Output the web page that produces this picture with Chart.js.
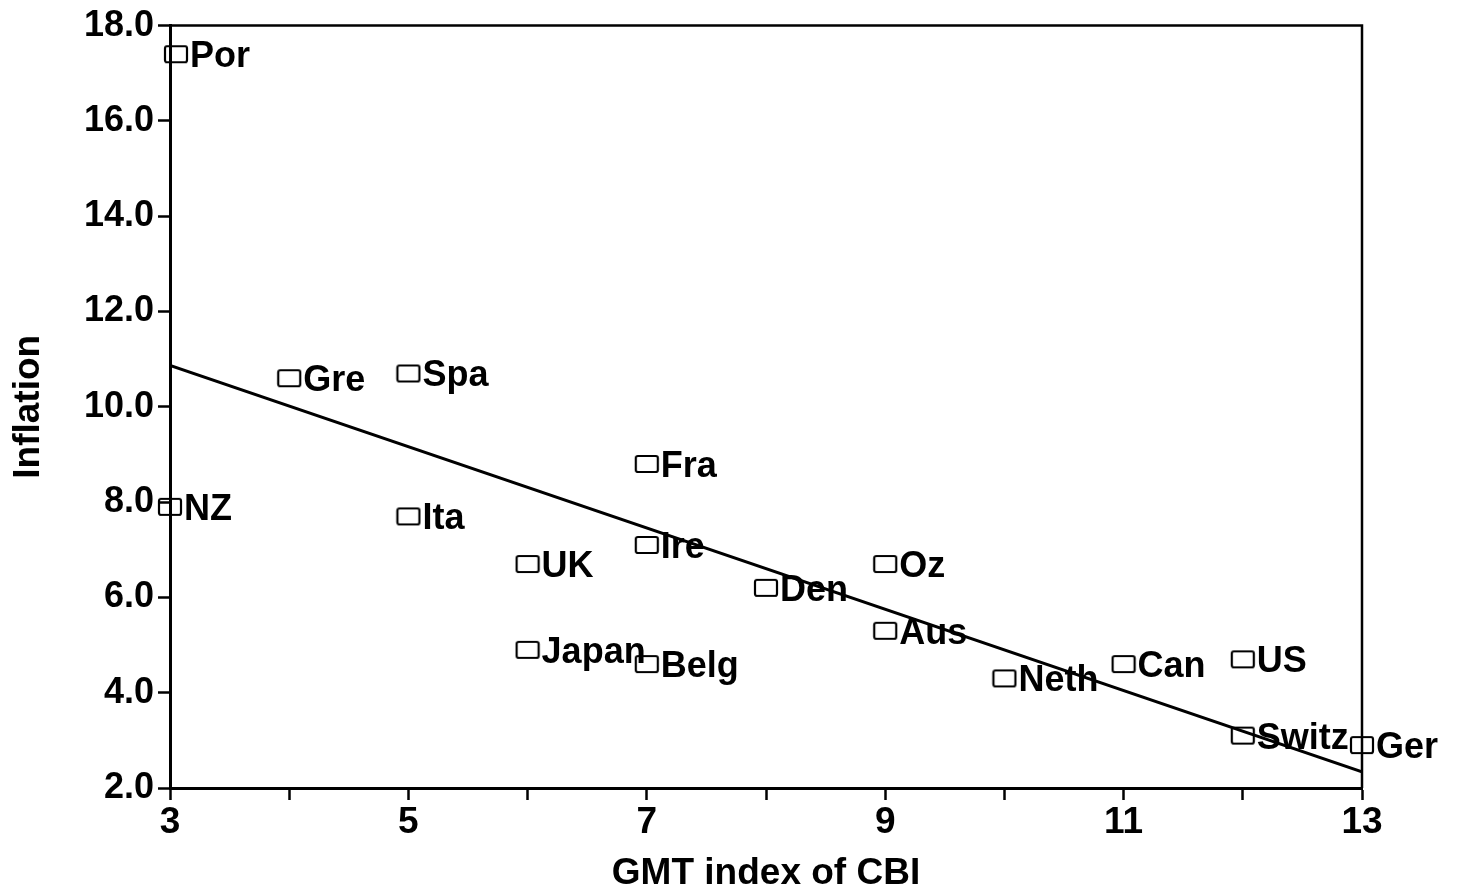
<!DOCTYPE html>
<html>
<head>
<meta charset="utf-8">
<script src="https://cdn.jsdelivr.net/npm/chart.js@4"></script>
<style>
  body { margin: 0; background: #fff; }
  canvas { display: block; }
</style>
</head>
<body>
<canvas id="cbi-chart" width="1458" height="894"></canvas>
<script>
// 国家简称、CBI指数、通胀率
const countries = ['Por', 'Gre', 'Spa', 'NZ', 'Ita', 'Fra', 'Ire', 'UK', 'Den', 'Oz', 'Aus', 'Japan', 'Belg', 'Neth', 'Can', 'US', 'Switz', 'Ger'];
const cbiIndex = [3.05, 4, 5, 3, 5, 7, 7, 6, 8, 9, 9, 6, 7, 10, 11, 12, 12, 13];
const inflation = [17.4, 10.6, 10.7, 7.9, 7.7, 8.8, 7.1, 6.7, 6.2, 6.7, 5.3, 4.9, 4.6, 4.3, 4.6, 4.7, 3.1, 2.9];

// 回归线两端
const fitX = [3, 13];
const fitY = [10.87, 2.34];

// 刻度
const xTicks = [3, 5, 7, 9, 11, 13];
const yMin = 2, yMax = 18, yStep = 2;

const FONT = "'Liberation Sans', Arial, sans-serif";

// 空心小方框作为点样式
function makeBox() {
    const c = document.createElement('canvas');
    c.width = 26;
    c.height = 20;
    const g = c.getContext('2d');
    g.strokeStyle = '#000';
    g.lineWidth = 2.2;
    g.beginPath();
    g.roundRect(2, 2, 22, 16, 2);
    g.stroke();
    return c;
}

// 点旁的国家标签
const pointLabels = {
    id: 'pointLabels',
    afterDatasetsDraw(chart) {
        const ctx = chart.ctx;
        const meta = chart.getDatasetMeta(0);
        ctx.save();
        ctx.fillStyle = '#000';
        ctx.font = `bold 36px ${FONT}`;
        ctx.textBaseline = 'middle';
        ctx.textAlign = 'left';
        meta.data.forEach((pt, i) => {
            ctx.fillText(countries[i], pt.x + 14, pt.y + 3);
        });
        ctx.restore();
    }
};

// 上、右边框
const frame = {
    id: 'frame',
    beforeDatasetsDraw(chart) {
        const { ctx, chartArea } = chart;
        ctx.save();
        ctx.strokeStyle = '#000';
        ctx.lineWidth = 2.5;
        ctx.beginPath();
        ctx.moveTo(chartArea.left, chartArea.top);
        ctx.lineTo(chartArea.right, chartArea.top);
        ctx.lineTo(chartArea.right, chartArea.bottom);
        ctx.stroke();
        ctx.restore();
    }
};

const ctx = document.getElementById('cbi-chart').getContext('2d');

window.cbiChart = new Chart(ctx, {
    type: 'scatter',
    data: {
        datasets: [
            {
                label: 'Inflation',
                data: cbiIndex.map((x, i) => ({ x: x, y: inflation[i] })),
                pointStyle: makeBox(),
                pointRadius: 10,
                clip: false,
                order: 2
            },
            {
                type: 'line',
                label: 'Fit',
                data: fitX.map((x, i) => ({ x: x, y: fitY[i] })),
                borderColor: '#000',
                borderWidth: 3,
                pointRadius: 0,
                fill: false,
                order: 1
            }
        ]
    },
    options: {
        responsive: false,
        animation: false,
        events: [],
        layout: {
            padding: { top: 25, right: 96, left: 0, bottom: 0 }
        },
        plugins: {
            legend: { display: false },
            tooltip: { enabled: false }
        },
        scales: {
            x: {
                type: 'linear',
                min: 3,
                max: 13,
                afterFit(scale) { scale.height = 106; },
                ticks: {
                    stepSize: 1,
                    color: '#000',
                    padding: 1,
                    maxRotation: 0,
                    autoSkip: false,
                    font: { family: FONT, size: 37, weight: 'bold' },
                    callback: v => xTicks.includes(v) ? String(v) : ''
                },
                grid: {
                    drawOnChartArea: false,
                    tickLength: 12,
                    tickColor: '#000',
                    tickWidth: 2.5
                },
                border: { color: '#000', width: 3 },
                title: {
                    display: true,
                    text: 'GMT index of CBI',
                    color: '#000',
                    padding: { top: 0, bottom: -2 },
                    font: { family: FONT, size: 37, weight: 'bold' }
                }
            },
            y: {
                min: yMin,
                max: yMax,
                afterFit(scale) { scale.width = 170; },
                ticks: {
                    stepSize: yStep,
                    color: '#000',
                    padding: 4,
                    font: { family: FONT, size: 36, weight: 'bold' },
                    callback: v => v.toFixed(1)
                },
                grid: {
                    drawOnChartArea: false,
                    tickLength: 12,
                    tickColor: '#000',
                    tickWidth: 2.5
                },
                border: { color: '#000', width: 3 },
                title: {
                    display: true,
                    text: 'Inflation',
                    color: '#000',
                    padding: { top: 7, bottom: 0 },
                    font: { family: FONT, size: 37, weight: 'bold' }
                }
            }
        }
    },
    plugins: [frame, pointLabels]
});
</script>
</body>
</html>
